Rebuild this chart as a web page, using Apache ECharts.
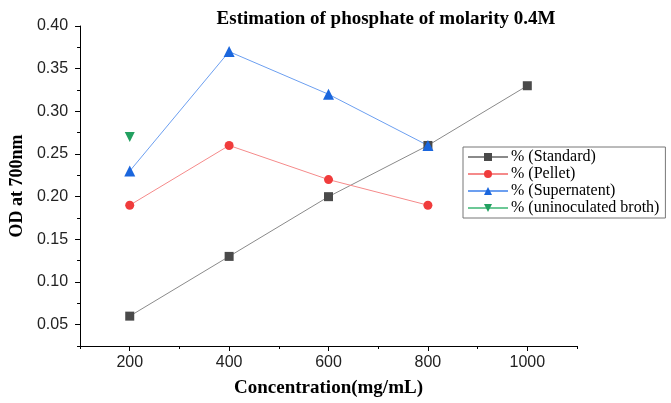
<!DOCTYPE html>
<html>
<head>
<meta charset="utf-8">
<script src="https://cdn.jsdelivr.net/npm/echarts@6/dist/echarts.min.js"></script>
<style>html,body{margin:0;padding:0;background:#fff}#container{width:671px;height:403px}</style>
</head>
<body>
<div id="container"></div>
<script>
var conc = [200, 400, 600, 800, 1000];
var standard = [0.06, 0.13, 0.20, 0.26, 0.33];
var pellet = [0.19, 0.26, 0.22, 0.19];
var supernatent = [0.23, 0.37, 0.32, 0.26];
var broth = [0.27];
var xMajor = [200, 400, 600, 800, 1000];
var xMinor = [100, 300, 500, 700, 900, 1100];
var yMajor = [0.05, 0.10, 0.15, 0.20, 0.25, 0.30, 0.35, 0.40];
var yMinor = [0.025, 0.075, 0.125, 0.175, 0.225, 0.275, 0.325, 0.375];

function pairs(vals) {
    return vals.map(function (v, i) { return [conc[i], v]; });
}

var serif = 'Liberation Serif';
var sans = 'Liberation Sans';
var dom = document.getElementById("container");
var myChart = echarts.init(dom);

var axisLine = {show: true, lineStyle: {color: '#000', width: 1}};
var option = {
    animation: false,
    title: {
        text: 'Estimation of phosphate of molarity 0.4M',
        left: 381, top: 5, textAlign: 'center',
        textStyle: {fontFamily: serif, fontWeight: 'bold', fontSize: 19, color: '#000'}
    },
    legend: {
        left: 463, top: 147,
        orient: 'vertical',
        itemGap: 1,
        itemWidth: 40, itemHeight: 10,
        padding: [2, 6, 2, 4],
        borderColor: '#777', borderWidth: 1,
        textStyle: {fontFamily: serif, fontSize: 16, color: '#000', padding: [0, 0, 0, -2]},
        data: ['% (Standard)', '% (Pellet)', '% (Supernatent)', '% (uninoculated broth)']
    },
    grid: {left: 80, right: 94, top: 26, bottom: 56},
    xAxis: [{
        type: 'value', min: 100, max: 1100,
        name: 'Concentration(mg/mL)', nameLocation: 'middle', nameGap: 33,
        nameTextStyle: {fontFamily: serif, fontWeight: 'bold', fontSize: 19, color: '#000'},
        axisLine: axisLine,
        axisTick: {show: true, inside: false, length: 5, customValues: xMajor, lineStyle: {color: '#000'}},
        axisLabel: {customValues: xMajor, margin: 9, fontFamily: sans, fontSize: 16, color: '#222',
            formatter: function (v) { return String(v); }},
        splitLine: {show: false}
    }, {
        type: 'value', min: 100, max: 1100, position: 'bottom',
        axisLine: {show: false},
        axisTick: {show: true, length: 3, customValues: xMinor, lineStyle: {color: '#000'}},
        axisLabel: {show: false},
        splitLine: {show: false}
    }],
    yAxis: [{
        type: 'value', min: 0.025, max: 0.40,
        name: 'OD at 700nm', nameLocation: 'middle', nameGap: 54,
        nameTextStyle: {fontFamily: serif, fontWeight: 'bold', fontSize: 18, color: '#000'},
        axisLine: axisLine,
        axisTick: {show: true, length: 5, customValues: yMajor, lineStyle: {color: '#000'}},
        axisLabel: {customValues: yMajor, margin: 12, fontFamily: sans, fontSize: 16, color: '#222',
            formatter: function (v) { return v.toFixed(2); }},
        splitLine: {show: false}
    }, {
        type: 'value', min: 0.025, max: 0.40, position: 'left',
        axisLine: {show: false},
        axisTick: {show: true, length: 3, customValues: yMinor, lineStyle: {color: '#000'}},
        axisLabel: {show: false},
        splitLine: {show: false}
    }],
    series: [
        {
            name: '% (Standard)', type: 'line', data: pairs(standard),
            symbol: 'rect', symbolSize: 9,
            itemStyle: {color: '#4a4a4a'},
            lineStyle: {color: '#8a8a8a', width: 1}
        },
        {
            name: '% (Pellet)', type: 'line', data: pairs(pellet),
            symbol: 'circle', symbolSize: 9,
            itemStyle: {color: '#f03c3c'},
            lineStyle: {color: '#f58a8a', width: 1}
        },
        {
            name: '% (Supernatent)', type: 'line', data: pairs(supernatent),
            symbol: 'triangle', symbolSize: 11,
            itemStyle: {color: '#1a66dd'},
            lineStyle: {color: '#6c9ff0', width: 1}
        },
        {
            name: '% (uninoculated broth)', type: 'line', data: pairs(broth),
            symbol: 'triangle', symbolRotate: 180, symbolSize: 10,
            itemStyle: {color: '#22a060'},
            lineStyle: {color: '#6cc896', width: 1}
        }
    ]
};
myChart.setOption(option);
</script>
</body>
</html>
